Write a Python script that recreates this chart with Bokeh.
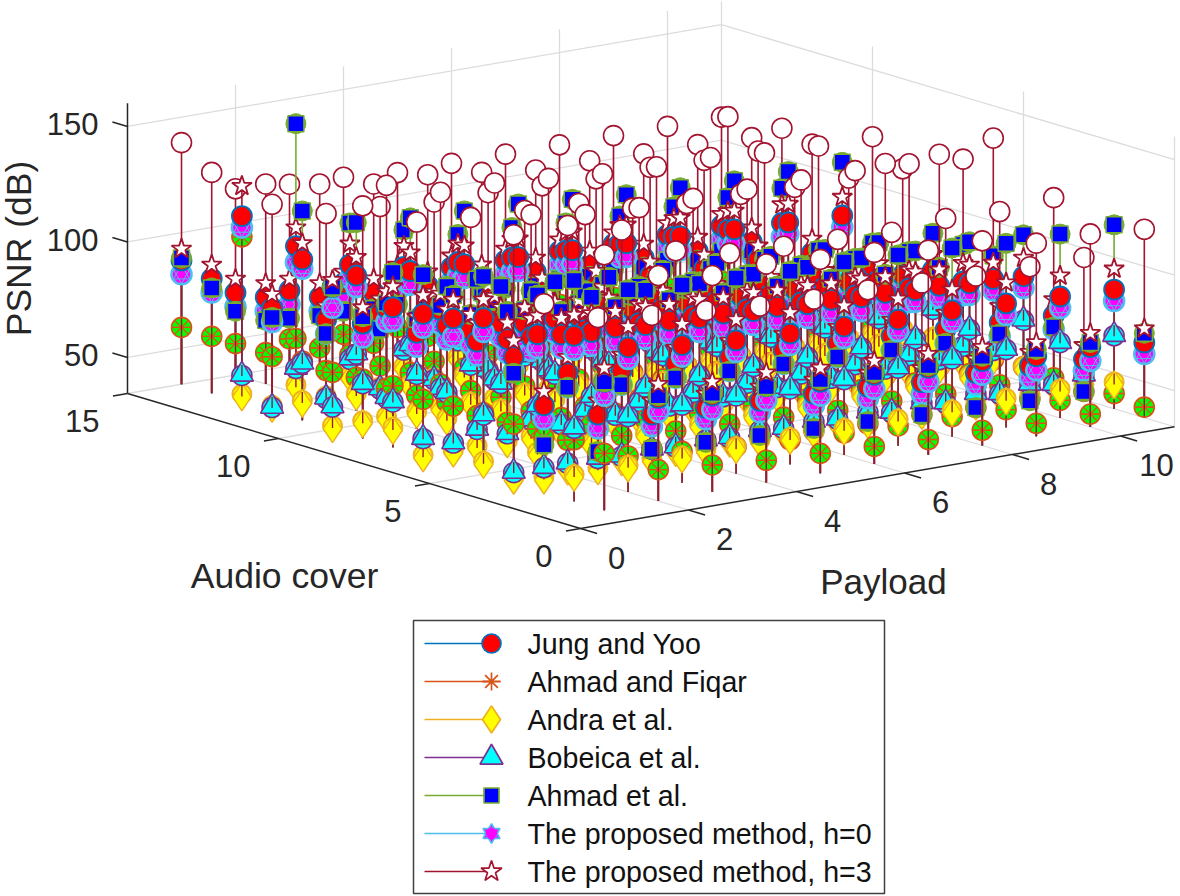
import math
from bokeh.plotting import figure
from bokeh.models import Range1d, ColumnDataSource
from bokeh.core.properties import value
from bokeh.embed import file_html
from bokeh.resources import INLINE

N = float("nan")
PAYLOAD = [1, 2, 3, 4, 5, 6, 7, 8, 9, 10, 11]
COVER = list(range(1, 16))
PAYLOAD_TICKS = [0, 2, 4, 6, 8, 10]
COVER_TICKS = [0, 5, 10, 15]
PSNR_TICKS = [50, 100, 150]
PAYLOAD_LIM = (0, 11)
COVER_LIM = (0, 15)
PSNR_LIM = (34.4, 160)

# rows: audio cover 1..15, columns: payload 1..11
AHMAD_FIQAR = [
 [59,48,46,44,43,42,41,41,40,40,39],[61,50,48,46,45,44,43,43,42,42,41],[58,47,45,43,42,41,40,40,39,39,38],
 [60,49,47,45,44,43,42,42,41,41,40],[61,50,48,46,45,44,43,43,42,42,41],[60,49,47,45,44,43,42,42,41,41,40],
 [59,48,46,44,43,42,41,41,40,40,39],[61,50,48,46,45,44,43,43,42,42,41],[60,49,47,45,44,43,42,42,41,41,40],
 [59,48,46,44,43,42,41,41,40,40,39],[60,49,47,45,44,43,42,42,41,41,40],[58,48,46,44,43,42,41,41,40,40,39],
 [106,58,47,45,44,43,42,42,41,41,40],[59,48,46,44,43,42,41,41,40,40,39],[59,48,46,44,43,42,41,41,40,40,39]]
ANDRA = [
 [N]*11,[46,46,46,46,46,46,46,46,47,47,46],[41,41,41,41,41,41,41,41,41,41,41],
 [37,37,37,37,37,37,37,37,37,37,37],[40,40,40,40,40,40,40,41,41,41,41],[41,41,41,41,41,41,41,41,41,41,41],
 [35,35,35,35,35,35,35,35,35,35,35],[43,43,43,43,43,43,43,43,43,43,42],[42,42,42,42,42,42,42,42,42,42,42],
 [36,36,36,36,36,36,36,36,36,36,36],[43,42,42,42,42,42,42,42,42,42,42],[37,37,37,37,37,37,37,37,37,37,37],
 [38,38,38,38,38,38,38,38,38,38,38],[N]*11,[N]*11]
BOBEICA = [
 [N]*11,[66,67,68,68,67,67,68,68,68,67,66],[45,45,45,45,45,45,45,45,45,45,45],
 [39,39,38,38,38,38,38,37,37,37,37],[60,60,60,60,61,61,61,61,61,61,61],[44,44,44,44,44,44,44,44,44,44,44],
 [42,42,42,42,42,42,42,42,42,42,42],[54,54,54,54,54,54,54,54,54,54,54],[58,58,58,58,58,58,58,58,58,58,58],
 [44,44,44,44,44,44,44,44,44,44,44],[59,59,59,59,59,59,59,59,59,59,59],[36,36,36,36,36,36,36,36,36,36,36],
 [46,45,45,45,45,45,45,45,45,45,45],[N]*11,[N]*11]
AHMAD_ETAL = [
 [90,80,77,76,75,74,73,73,72,71,71],[130,122,120,119,118,118,117,116,114,114,114],[55,48,45,44,43,42,41,40,39,38,38],
 [82,72,69,68,67,66,65,64,63,63,62],[120,108,103,102,101,101,100,100,99,99,98],[108,97,93,91,90,89,88,87,85,84,85],
 [113,107,98,94,92,90,89,89,88,87,86],[110,100,96,94,92,91,90,89,88,87,87],[87,82,80,78,77,76,75,75,75,75,74],
 [96,85,80,78,77,77,76,76,76,76,75],[125,116,114,113,112,110,108,107,106,106,106],[75,64,62,61,60,60,59,59,59,58,58],
 [N,151,104,97,91,90,88,87,87,87,87],[80,62,60,59,58,58,57,57,57,56,56],[89,62,55,54,53,53,52,52,52,52,52]]
JUNG = [
 [90,79,76,76,74,73,72,71,69,69,67],[106,97,94,92,91,90,89,89,88,87,86],[72,64,60,59,58,57,56,54,54,53,52],
 [89,78,75,74,73,72,71,70,69,68,67],[102,91,88,87,86,85,84,83,82,81,80],[98,85,83,82,81,80,79,78,77,76,75],
 [96,80,78,77,76,75,74,73,72,71,70],[95,83,80,78,76,75,74,73,72,71,71],[84,76,73,72,71,70,69,68,67,66,65],
 [96,83,78,73,71,69,68,67,66,65,65],[104,93,91,90,89,88,87,86,85,84,83],[79,70,69,68,67,66,65,65,64,64,63],
 [115,98,86,81,79,77,76,75,74,73,72],[84,72,68,66,65,64,63,62,61,60,60],[88,70,67,66,65,65,64,64,63,63,63]]
PROPOSED_H0 = [
 [84,73,70,70,68,67,66,65,63,63,62],[100,92,89,87,86,85,84,84,83,82,81],[66,58,55,54,53,52,51,49,49,48,47],
 [83,72,69,68,67,66,65,64,63,62,61],[96,85,82,81,80,79,78,77,77,76,75],[90,79,77,76,75,74,73,72,71,71,70],
 [90,74,72,71,70,69,68,67,66,65,64],[89,77,74,72,70,69,68,67,66,65,65],[78,70,67,66,65,64,63,62,61,60,59],
 [87,77,72,67,65,63,62,61,60,59,59],[100,88,85,84,83,82,81,80,79,79,78],[73,64,63,62,61,60,59,59,58,58,57],
 [110,91,80,75,73,71,70,69,68,67,66],[78,66,62,60,59,58,57,56,55,54,54],[82,64,61,60,59,59,58,58,57,57,57]]
PROPOSED_H3 = [
 [96,85,82,82,80,79,78,77,75,75,73],[115,106,103,101,100,99,98,98,97,96,95],[78,70,66,65,64,63,62,60,60,59,58],
 [96,85,82,81,80,79,78,77,76,75,74],[110,99,96,95,94,93,92,91,90,89,88],[106,92,90,89,88,87,86,85,84,83,82],
 [104,88,86,85,84,83,82,81,80,79,78],[104,90,87,85,83,82,81,80,79,78,78],[91,83,80,79,78,77,76,75,74,73,72],
 [99,90,85,80,78,76,75,74,73,72,72],[111,101,99,98,97,96,95,94,93,92,91],[85,76,75,74,73,72,71,71,70,70,69],
 [128,106,95,90,87,85,84,83,82,81,80],[90,78,74,72,71,70,69,68,67,66,66],[93,76,72,71,70,70,69,69,68,68,68]]
# the white circles drawn in the chart but missing from its legend
UNLISTED = [
 [145,132,128,129,127,126,123,123,118,118,116],[N]*11,[116,106,103,101,99,98,98,97,96,96,96],
 [142,142,136,123,118,117,116,115,117,116,118],[N]*11,[N,N,N,N,N,N,N,N,133,133,136],
 [N,N,131,127,126,126,126,126,126,125,123],[N]*11,[135,124,122,121,120,114,112,112,111,111,111],
 [N,136,129,129,127,125,124,124,122,121,121],[N]*11,[124,116,115,113,113,112,111,112,111,111,110],
 [N,N,N,N,N,N,N,N,N,122,113],[130,121,117,113,113,110,107,107,106,106,105],[139,115,113,112,110,110,110,110,110,110,110]]

RED, BLU, ORG, YEL, PUR, GRN, LBL, DRD = "#ff0000", "#0072bd", "#d95319", "#edb120", "#7e2f8e", "#77ac30", "#4dbeee", "#a2142f"

def proj(p, c, z):
    return (580 + 54 * p - 30.2 * c, 528 - 9.25 * p - 9 * c - (z - PSNR_LIM[0]) * 2.31)

# layers: marker, size, fill, line, width, angle, dy
A90 = math.pi / 2
LAYERS = {
 "fiqar": [("circle",20,"#00ff00",ORG,1.6,0,0),("asterisk",19,None,ORG,1.3,0,0),("dash",19,None,ORG,1.3,0,0),("dash",19,None,DRD,1.3,A90,0)],
 "andra": [("circle",20,YEL,YEL,1,0,0),("circle",17,"#ffff00",YEL,0.5,0,0),("diamond",28,"#ffff00",YEL,1.4,0,3),("dash",11,None,DRD,1.4,A90,-3)],
 "bob": [("circle",20,"#00ffff",PUR,1.6,0,0),("triangle",23,"#00ffff",PUR,1.6,0,-1),("dash",11,None,DRD,1.4,A90,-5)],
 "mag": [("circle",20,"#ff00ff",LBL,2.6,0,0),("triangle",16,None,LBL,1,0,0),("inverted_triangle",16,None,LBL,1,0,0)],
 "jung": [("circle",20,RED,BLU,1.8,0,0)],
 "ahmad": [("circle",20,GRN,GRN,1,0,0),("square",16,"#0000ff",GRN,1.5,0,0)],
 "h3": [("star",21,"#ffffff",DRD,1.8,0,0)],
 "white": [("circle",20,"#ffffff",DRD,1.6,0,0)],
}
ORDER = [("fiqar",AHMAD_FIQAR,ORG),("andra",ANDRA,YEL),("bob",BOBEICA,PUR),("mag",PROPOSED_H0,LBL),
         ("jung",JUNG,BLU),("ahmad",AHMAD_ETAL,GRN),("h3",PROPOSED_H3,DRD),("white",UNLISTED,DRD)]

p = figure(width=1180, height=896, x_range=Range1d(0, 1180), y_range=Range1d(896, 0),
           toolbar_location=None, output_backend="svg", min_border=0,
           styles={"position": "absolute", "left": "0px", "top": "0px"})
p.axis.visible = False
p.grid.visible = False
p.outline_line_color = None
p.background_fill_color = "#ffffff"

def seg(pts, color, width):
    xs, ys = [], []
    for a, b in pts:
        xs.append([a[0], b[0]]); ys.append([a[1], b[1]])
    p.multi_line(xs, ys, line_color=color, line_width=width)

zlo, zhi = PSNR_LIM
pm, cm = PAYLOAD_LIM[1], COVER_LIM[1]
grid = []
for t in PAYLOAD_TICKS[1:]:
    grid += [(proj(t,0,zlo),proj(t,cm,zlo)),(proj(t,cm,zlo),proj(t,cm,zhi))]
for t in COVER_TICKS[1:-1]:
    grid += [(proj(0,t,zlo),proj(pm,t,zlo)),(proj(pm,t,zlo),proj(pm,t,zhi))]
for t in PSNR_TICKS:
    grid += [(proj(0,cm,t),proj(pm,cm,t)),(proj(pm,cm,t),proj(pm,0,t))]
grid += [(proj(pm,0,zhi),proj(pm,0,zlo)),
         (proj(pm,cm,zlo),proj(pm,cm,zhi)),(proj(0,cm,zlo),proj(pm,cm,zlo)),(proj(pm,cm,zlo),proj(pm,0,zlo))]
seg(grid, "#dcdcdc", 1.3)

AX = "#262626"
ax = [(proj(0,0,zlo),proj(pm,0,zlo)),(proj(0,0,zlo),proj(0,cm,zlo)),(proj(0,cm,zlo),proj(0,cm,zhi))]
for t in PAYLOAD_TICKS:
    ax.append((proj(t,0,zlo),proj(t,-0.55,zlo)))
for t in COVER_TICKS:
    ax.append((proj(0,t,zlo),proj(-0.27,t,zlo)))
for t in PSNR_TICKS:
    ax.append((proj(0,cm,t),proj(0,cm+0.5,t)))
seg(ax, AX, 1.5)

columns = sorted([(pi, ci) for pi in range(len(PAYLOAD)) for ci in range(len(COVER))],
                 key=lambda t: proj(PAYLOAD[t[0]], COVER[t[1]], zlo)[1])
for pi, ci in columns:
    P, C = PAYLOAD[pi], COVER[ci]
    sx0, sy0, sx1, sy1, sc = [], [], [], [], []
    rows = {k: [] for k in ("x","y","marker","size","fill","line","w","a")}
    for key, table, stem in ORDER:
        z = table[ci][pi]
        if math.isnan(z):
            continue
        x, y = proj(P, C, z)
        x0, y0 = proj(P, C, zlo)
        sx0.append(x0); sy0.append(y0); sx1.append(x); sy1.append(y); sc.append(stem)
        for m, s, f, l, w, a, dy in LAYERS[key]:
            rows["x"].append(x); rows["y"].append(y + dy); rows["marker"].append(m); rows["size"].append(s)
            rows["fill"].append(f if f else "rgba(0,0,0,0)"); rows["line"].append(l); rows["w"].append(w); rows["a"].append(a)
    p.segment(sx0, sy0, sx1, sy1, line_color=sc, line_width=1.6)
    p.scatter(x="x", y="y", marker="marker", size="size", fill_color="fill", line_color="line",
              line_width="w", angle="a", source=ColumnDataSource(rows))

FONT = value("Liberation Sans")
def txt(xs, ys, labels, size, align="center", angle=0, color=AX):
    p.text(xs, ys, text=labels, text_font=FONT, text_font_size=f"{size}px", text_align=align,
           text_baseline="middle", angle=angle, text_color=color)

pts = [proj(t, 0, zlo) for t in PAYLOAD_TICKS]
txt([a[0] + 36 for a in pts], [a[1] + 29 for a in pts], [str(t) for t in PAYLOAD_TICKS], 31)
pts = [proj(0, t, zlo) for t in COVER_TICKS]
txt([a[0] - 28 for a in pts], [a[1] + 27 for a in pts], [str(t) for t in COVER_TICKS], 31, "right")
pts = [proj(0, cm, t) for t in PSNR_TICKS]
txt([a[0] - 29 for a in pts], [a[1] - 2 for a in pts], [str(t) for t in PSNR_TICKS], 31, "right")
txt([883], [581], ["Payload"], 35)
txt([284], [575], ["Audio cover"], 35.5)
txt([18], [248], ["PSNR (dB)"], 35.5, angle=A90)

# legend
LABELS = ["Jung and Yoo", "Ahmad and Fiqar", "Andra et al.", "Bobeica et al.", "Ahmad et al.",
          "The proposed method, h=0", "The proposed method, h=3"]
LINE_COLORS = [BLU, ORG, YEL, PUR, GRN, LBL, DRD]
LEG_Y = [643, 681, 719, 757, 795, 833, 871]
p.quad(left=[413], right=[884], top=[620], bottom=[893], fill_color="#ffffff", line_color="#404040", line_width=1.5)
p.segment([424]*7, LEG_Y, [491]*7, LEG_Y, line_color=LINE_COLORS, line_width=1.5)
LEG_MARKERS = ["circle","asterisk","dash","diamond","triangle","square","triangle","inverted_triangle","star"]
LEG_ROW = [0,1,1,2,3,4,5,5,6]
LEG_SIZE = [19,18,18,27,23,15,17,17,22]
LEG_FILL = [RED,None,None,"#ffff00","#00ffff","#0000ff","#ff00ff","#ff00ff","#ffffff"]
LEG_EDGE = [BLU,ORG,ORG,YEL,PUR,GRN,LBL,LBL,DRD]
p.scatter(x=[491]*9, y=[LEG_Y[r] for r in LEG_ROW], marker=LEG_MARKERS, size=LEG_SIZE,
          fill_color=[f if f else "rgba(0,0,0,0)" for f in LEG_FILL], line_color=LEG_EDGE, line_width=1.7)
p.scatter(x=[491], y=[LEG_Y[5]], marker=["hex"], size=[11], fill_color=["#ff00ff"], line_color=["#ff00ff"], line_width=1)
txt([527]*7, LEG_Y, LABELS, 28.6, "left", color="#111111")

open("out.html", "w").write(file_html(p, INLINE))
